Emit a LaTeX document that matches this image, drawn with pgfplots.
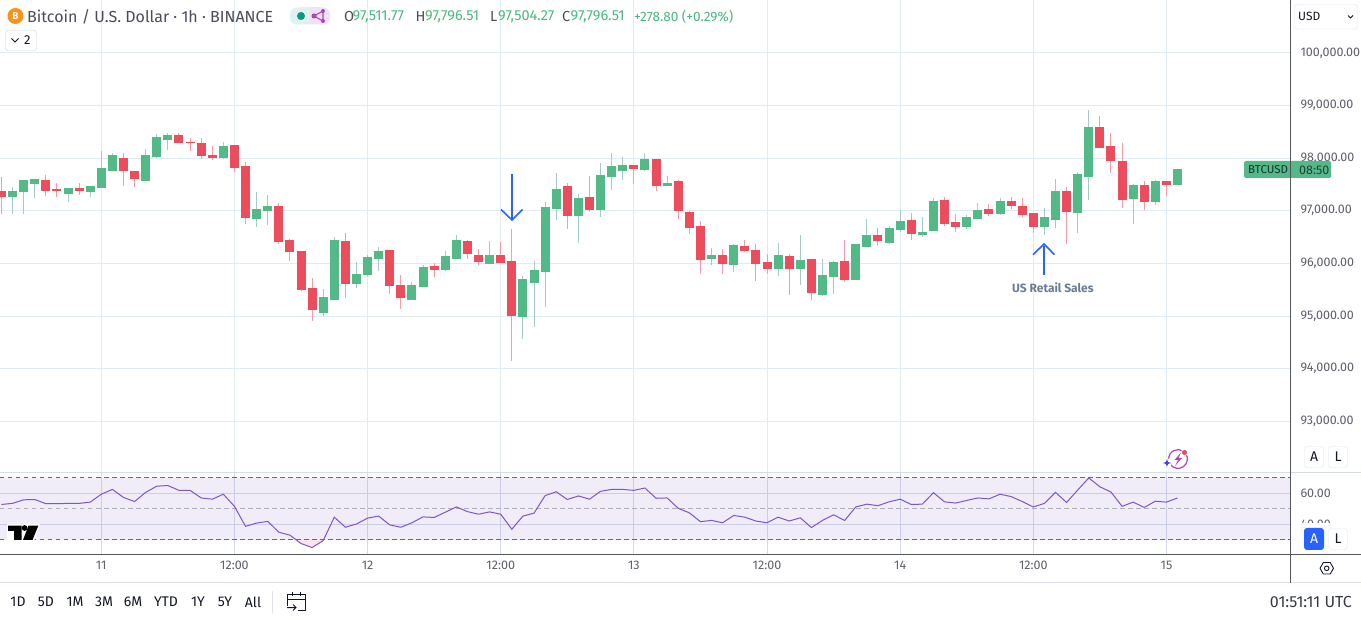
\documentclass[border=0pt]{standalone}
\usepackage{fontspec}
\setmainfont{Fira Sans}
\usepackage{pgfplots}
\usepackage{pgfplotstable}
\pgfplotsset{compat=1.18}
\definecolor{upc}{HTML}{53B987}
\definecolor{downc}{HTML}{EB4D5C}
\definecolor{upw}{HTML}{A3CCC9}
\definecolor{downw}{HTML}{F99BA6}
\definecolor{gridc}{HTML}{E1ECF2}
\definecolor{gridr}{HTML}{D5DBEC}
\definecolor{tvgrey}{HTML}{787B86}
\definecolor{axtxt}{HTML}{5E606A}
\definecolor{hdr}{HTML}{4A4D57}
\definecolor{axln}{HTML}{55565C}
\definecolor{rsi}{HTML}{7E57C2}
\definecolor{blue1}{HTML}{2962FF}
\definecolor{sep}{HTML}{E0E3EB}
\definecolor{note}{HTML}{6A7D94}
\definecolor{btc}{HTML}{F7931A}
\definecolor{tealdot}{HTML}{089981}
\definecolor{teallt}{HTML}{E0F1EF}
\definecolor{purp}{HTML}{AB47BC}
\definecolor{purplt}{HTML}{F0E2F5}
\definecolor{hgreen}{HTML}{4CB782}
\definecolor{navy}{HTML}{131722}
\pgfplotstableread{
h O H L C
-8 97289 97459 96931 97365
-7 97384 97572 96931 97572
-6 97535 97610 97233 97591
-3 97346 97421 97157 97421
-1 97384 97478 97252 97459
0 97459 98138 97459 97799
1 97780 98101 97780 98063
4 97591 98176 97572 98063
5 98044 98459 98006 98403
6 98365 98478 98157 98440
11 98025 98308 97988 98233
14 96855 97365 96685 97025
15 97006 97308 96723 97082
20 95082 95516 95006 95365
21 95327 96497 95327 96440
23 95629 96025 95535 95799
24 95799 96151 95742 96120
25 96101 96308 95855 96233
28 95327 95648 95327 95591
29 95572 95969 95553 95931
31 95893 96233 95855 96138
32 96101 96535 96101 96440
35 96006 96421 96006 96157
38 95006 95761 94572 95704
39 95648 96044 94799 95874
40 95855 97157 95176 97063
41 97044 97723 96818 97403
43 96912 97327 96384 97233
45 97025 97912 96874 97667
46 97667 98101 97403 97837
47 97780 98025 97591 97874
49 97799 98101 97761 97988
51 97497 97667 97478 97516
55 96101 96289 95969 96157
57 95987 96365 95836 96346
61 95912 96384 95761 96157
63 95912 96535 95591 96063
65 95421 96082 95384 95780
66 95761 96044 95421 96025
68 95704 96365 95685 96365
69 96327 96837 96327 96535
71 96403 96704 96365 96667
72 96648 97006 96591 96799
74 96554 96874 96497 96591
75 96629 97233 96629 97176
78 96704 96912 96648 96874
79 96855 97138 96855 97006
81 96950 97233 96912 97176
85 96704 97044 96535 96874
86 96836 97610 96667 97365
88 96969 97742 96572 97686
89 97667 98912 97195 98591
93 97233 97516 96742 97478
95 97176 97591 97101 97554
97 97512 97797 97504 97797
}\upcandles
\pgfplotstableread{
h O H L C
-9 97365 97648 96931 97270
-5 97572 97686 97289 97384
-4 97403 97535 97270 97384
-2 97421 97535 97308 97384
2 98006 98101 97478 97761
3 97742 97742 97459 97610
7 98440 98478 98289 98289
8 98308 98384 98138 98289
9 98289 98384 97988 98044
10 98063 98233 97969 98006
12 98252 98252 97742 97818
13 97837 97931 96742 96874
16 97082 97138 96365 96402
17 96440 96459 96044 96214
18 96233 96233 95478 95497
19 95534 95723 94912 95119
22 96421 96572 95346 95610
26 96252 96252 95421 95572
27 95591 95780 95138 95346
30 95950 96006 95742 95874
33 96421 96440 96082 96176
34 96157 96270 95969 96025
36 96157 96403 96000 96006
37 96044 96648 94138 95006
42 97459 97535 96648 96912
44 97252 97667 96969 97025
48 97874 97874 97516 97799
50 97988 97988 97384 97478
52 97554 97591 96837 97006
53 96969 96988 96554 96667
54 96704 96799 95799 96063
56 96157 96270 95799 95987
58 96327 96440 96214 96233
59 96252 96365 95667 95987
60 96025 96176 95799 95893
62 96138 96176 95402 95893
64 96082 96082 95308 95440
67 96044 96440 95648 95685
70 96535 96667 96327 96421
73 96818 96950 96440 96554
76 97195 97270 96704 96761
77 96780 96931 96591 96704
80 97025 97120 96893 96950
82 97176 97252 97025 97101
83 97082 97233 96874 96931
84 96950 96950 96572 96704
87 97365 97459 96365 96987
90 98591 98799 98195 98195
91 98233 98478 97723 97950
92 97950 98289 97044 97214
94 97478 97572 97006 97176
96 97554 97572 97289 97497
}\downcandles
\pgfplotstableread{
h r
-9 52.8
-8 53.5
-7 55.8
-6 56
-5 53.3
-4 53.3
-3 53.5
-2 53.5
-1 54.3
0 59.4
1 62.5
2 57.3
3 54.7
4 60.6
5 64.6
6 65
7 61.9
8 61.9
9 57
10 56.2
11 59.4
12 51.6
13 38.7
14 40.8
15 41.9
16 34.9
17 33
18 27.6
19 25
20 29.5
21 44.6
22 38.1
23 40.2
24 44
25 45.3
26 39.6
27 38.1
28 41
29 44.8
30 44.4
31 47.8
32 51.2
33 48.2
34 46.5
35 48
36 46.5
37 36.8
38 45.3
39 47.2
40 58.5
41 61
42 56
43 58.3
44 56.2
45 61.3
46 62.5
47 62.5
48 61.9
49 63.4
50 56.8
51 57
52 50.3
53 47.4
54 41.7
55 42.5
56 41
57 45.7
58 44.6
59 42.1
60 41
61 44.6
62 42.1
63 44.2
64 37.9
65 42.5
66 46.1
67 42.5
68 51.2
69 53
70 52
71 54.5
72 56.2
73 52.8
74 53
75 60.4
76 54.5
77 53.7
78 55.4
79 57
80 56.4
81 59.4
82 57.9
83 54.7
84 51.2
85 53.5
86 60.6
87 54.1
88 62.1
89 69.9
90 64.2
91 60.8
92 51.6
93 54.3
94 50.9
95 54.9
96 54.3
97 57
}\rsitable
\newcommand{\candleplot}[3]{%
 \addplot[draw=none, no markers, forget plot, error bars/.cd, y dir=both, y explicit, error mark=none,
   error bar style={draw=#2, line width=1pt}]
   table[x=h, y=O, y error plus expr=\thisrow{H}-\thisrow{O}, y error minus expr=\thisrow{O}-\thisrow{L}] {#1};
 \addplot[draw=none, no markers, forget plot, error bars/.cd, y dir=both, y explicit, error mark=none,
   error bar style={draw=#3, line width=9pt}]
   table[x=h, y=O, y error plus expr={max(\thisrow{C}-\thisrow{O},0)+4}, y error minus expr={max(\thisrow{O}-\thisrow{C},0)+4}] {#1};
}
\newcommand{\ui}[3]{\node[anchor=west, inner sep=0pt, text=#3, font=\fontsize{14.5}{16}\selectfont] at (#1,16.5) {#2};}
\newcommand{\tb}[2]{\node[inner sep=0pt, text=navy, font=\fontsize{14}{16}\selectfont] at (#1,602) {#2};}
\begin{document}
\begin{tikzpicture}[x=1pt,y=1pt]
\useasboundingbox (0,0) rectangle (1361,619);
\fill[white] (0,0) rectangle (1361,619);
% main pane
\begin{axis}[at={(0pt,146.7pt)}, anchor=south west, scale only axis, width=1290.5pt, height=472.3pt,
  xmin=-9.13, xmax=107.18, ymin=92030, ymax=101004,
  axis line style={draw=none}, major tick length=0pt,
  grid=major, grid style={gridc, line width=0.9pt},
  xtick={0,12,...,96}, xticklabels={},
  ytick={93000,94000,95000,96000,97000,98000,99000,100000},
  yticklabel pos=right, scaled y ticks=false,
  yticklabel style={anchor=west, xshift=6.5pt, font=\fontsize{12.5}{14}\selectfont, text=axtxt,
    /pgf/number format/.cd, fixed, fixed zerofill, precision=2, 1000 sep={,}, assume math mode=true},
]
\candleplot{\upcandles}{upw}{upc}
\candleplot{\downcandles}{downw}{downc}
\end{axis}
% RSI pane
\begin{axis}[at={(0pt,64.7pt)}, anchor=south west, scale only axis, width=1290.5pt, height=82pt,
  xmin=-9.13, xmax=107.18, ymin=20.65, ymax=73.55,
  axis line style={draw=none}, major tick length=0pt,
  grid=major, grid style={gridr, line width=0.8pt},
  xtick={0,12,...,96},
  xticklabels={11,12:00,12,12:00,13,12:00,14,12:00,15},
  xticklabel style={font=\fontsize{12.5}{14}\selectfont, text=axtxt, yshift=-3pt},
  ytick={40,60}, yticklabel pos=right,
  yticklabel style={anchor=west, xshift=6.5pt, font=\fontsize{12.5}{14}\selectfont, text=axtxt,
    /pgf/number format/.cd, fixed, fixed zerofill, precision=2, assume math mode=true},
]
\fill[rsi, opacity=0.11] (axis cs:-9.13,30) rectangle (axis cs:107.18,70);
\fill[downc, opacity=0.15] (axis cs:17.5,30) -- (axis cs:18,27.6) -- (axis cs:19,25) -- (axis cs:20,29.5) -- (axis cs:20.1,30) -- cycle;
\draw[tvgrey!85!black, line width=0.9pt, dash pattern=on 4.5pt off 3.5pt] (axis cs:-9.13,70) -- (axis cs:107.18,70);
\draw[tvgrey!85!black, line width=0.9pt, dash pattern=on 4.5pt off 3.5pt] (axis cs:-9.13,30) -- (axis cs:107.18,30);
\draw[tvgrey!60!white, line width=0.8pt, dash pattern=on 4.5pt off 3.5pt] (axis cs:-9.13,50) -- (axis cs:107.18,50);
\addplot[rsi, line width=1pt, no marks] table[x=h, y=r] {\rsitable};
\end{axis}
% annotations and interface, in pixels from the top left
\begin{scope}[yshift=619pt,x=1pt,y=-1pt]
% pane frames
\draw[gridr, line width=1pt] (0,472.5) -- (1361,472.5);
\draw[axln, line width=1.1pt] (0,554.5) -- (1361,554.5);
\draw[sep, line width=1pt] (0,582.5) -- (1361,582.5);
\fill[white] (1291,523.5) rectangle (1361,553.8);
\draw[axln, line width=0.9pt] (1290.5,0) -- (1290.5,582.5);
% arrows
\draw[blue1, line width=1.6pt] (512,174) -- (512,219);
\draw[blue1, line width=1.6pt, line join=miter] (501,209.5) -- (512,220) -- (522.5,209.5);
\draw[blue1, line width=1.6pt] (1044,275) -- (1044,246);
\draw[blue1, line width=1.6pt, line join=miter] (1033,254.7) -- (1044,244) -- (1054.5,254.7);
\node[anchor=west, inner sep=0pt, text=note, font=\fontsize{12}{14}\selectfont\bfseries] at (1012,287.5) {US Retail Sales};
% header
\fill[btc] (15.5,16) circle (8);
\node[text=white, font=\fontsize{10}{12}\selectfont\bfseries, inner sep=0pt] at (15.5,16) {B};
\node[anchor=west, inner sep=0pt, text=hdr, font=\fontsize{16}{18}\selectfont] at (27,16.5) {Bitcoin / U.S. Dollar · 1h · BINANCE};
\fill[teallt, rounded corners=7pt] (290,7.5) rectangle (316,24.5);
\fill[purplt, rounded corners=7pt] (304,7.5) rectangle (330,24.5);
\fill[teallt] (300,7.5) rectangle (310,24.5);
\fill[purplt] (310,7.5) rectangle (320,24.5);
\fill[tealdot] (301,16) circle (4);
\draw[purp, line width=1.1pt] (323,11) -- (314,16) -- (323,21) -- cycle;
\fill[purp] (314,16) circle (2.5) (323,11) circle (2) (323,21) circle (2);
\ui{344}{O}{hdr}\ui{352.5}{97,511.77}{hgreen}
\ui{415.5}{H}{hdr}\ui{425}{97,796.51}{hgreen}
\ui{490}{L}{hdr}\ui{498}{97,504.27}{hgreen}
\ui{562}{C}{hdr}\ui{570.5}{97,796.51}{hgreen}
\node[anchor=west, inner sep=0pt, text=hgreen, font=\fontsize{13.6}{16}\selectfont] at (634,16.5) {+278.80 (+0.29\%)};
% legend toggle
\draw[sep!80!gray, fill=white, rounded corners=2.5pt] (5.5,30.5) rectangle (36.5,50.5);
\draw[navy, line width=0.9pt] (11.5,38.5) -- (15,42) -- (18.5,38.5);
\node[anchor=west, inner sep=0pt, text=navy, font=\fontsize{13}{14}\selectfont] at (24,40.5) {2};
% currency
\draw[sep, fill=white, rounded corners=3pt] (1294.5,4.5) rectangle (1357.5,29);
\node[anchor=west, inner sep=0pt, text=navy, font=\fontsize{12}{14}\selectfont] at (1298,16.5) {USD};
\draw[navy, line width=0.9pt] (1348,15.5) -- (1350.5,18) -- (1353,15.5);
% price tag
\fill[upc, rounded corners=1.5pt] (1244,161) rectangle (1331,178);
\draw[axln, line width=0.9pt] (1290.5,161) -- (1290.5,178);
\node[anchor=west, inner sep=0pt, text=navy!85!upc, font=\fontsize{11.5}{14}\selectfont] at (1248,170) {BTCUSD};
\node[anchor=west, inner sep=0pt, text=navy!75!upc, font=\fontsize{12.5}{14}\selectfont] at (1299,170) {08:50};
% A L buttons
\draw[sep, fill=white, rounded corners=3pt] (1304.5,446.5) rectangle (1323.5,467.5);
\draw[sep, fill=white, rounded corners=3pt] (1328.5,446.5) rectangle (1347.5,467.5);
\node[inner sep=0pt, text=navy, font=\fontsize{14}{16}\selectfont] at (1314,457) {A};
\node[inner sep=0pt, text=navy, font=\fontsize{14}{16}\selectfont] at (1338,457) {L};
\fill[blue1, rounded corners=3pt] (1304,528) rectangle (1324,550);
\draw[sep, fill=white, rounded corners=3pt] (1328.5,528.5) rectangle (1347.5,549.5);
\node[inner sep=0pt, text=white, font=\fontsize{14}{16}\selectfont] at (1314,539) {A};
\node[inner sep=0pt, text=navy, font=\fontsize{14}{16}\selectfont] at (1338,539) {L};
% settings hexagon
\draw[navy, line width=0.9pt, line join=round] (1320,568.3) -- (1323.3,562.5) -- (1330.2,562.5) -- (1333.5,568.3) -- (1330.2,574) -- (1323.3,574) -- cycle;
\draw[navy, line width=0.9pt] (1326.7,568.3) circle (2.3);
% assistant icon
\draw[purp, line width=1.2pt] (1170,454) arc[start angle=212, end angle=-150, radius=9.4];
\fill[purp] (1181,452.5) -- (1174.5,460) -- (1178,460) -- (1175,466) -- (1182,458) -- (1178.5,458) -- cycle;
\fill[white] (1184.5,452.5) circle (3.6);
\fill[downc] (1184.5,452.5) circle (2.6);
\fill[white] (1167,463) circle (5);
\fill[rsi!70!blue] (1167,458.5) .. controls (1167.6,462) and (1168,462.4) .. (1171.5,463) .. controls (1168,463.6) and (1167.6,464) .. (1167,467.5) .. controls (1166.4,464) and (1166,463.6) .. (1162.5,463) .. controls (1166,462.4) and (1166.4,462) .. (1167,458.5) -- cycle;
% logo
\fill[white] (7,524) -- (40,524) -- (34,541) -- (7,541) -- cycle;
\fill[black] (8,525.7) rectangle (21.7,531) (14,525.7) rectangle (21.7,540);
\fill[black] (24.6,528) circle (2.9);
\fill[black] (28.5,525.7) -- (38.3,525.7) -- (32.5,540) -- (23,540) -- cycle;
% toolbar
\tb{18}{1D}\tb{46}{5D}\tb{75}{1M}\tb{104}{3M}\tb{133}{6M}\tb{166}{YTD}\tb{198}{1Y}\tb{225}{5Y}\tb{253}{All}
\draw[sep, line width=0.9pt] (272.5,591) -- (272.5,613);
\draw[navy, line width=1pt, line join=round] (305,602) -- (305,610) -- (298,610);
\draw[navy, line width=1pt, line join=round] (287,606) -- (287,594.5) -- (305,594.5) -- (305,602);
\draw[navy, line width=1pt] (287,599) -- (305,599) (292,592) -- (292,596) (300,592) -- (300,596);
\draw[navy, line width=1pt] (287,607.5) -- (296,607.5) (293,604.5) -- (296,607.5) -- (293,610.5);
\node[anchor=east, inner sep=0pt, text=navy!85!white, font=\fontsize{16}{18}\selectfont] at (1352,602) {01:51:11 UTC};
\end{scope}
\end{tikzpicture}
\end{document}
